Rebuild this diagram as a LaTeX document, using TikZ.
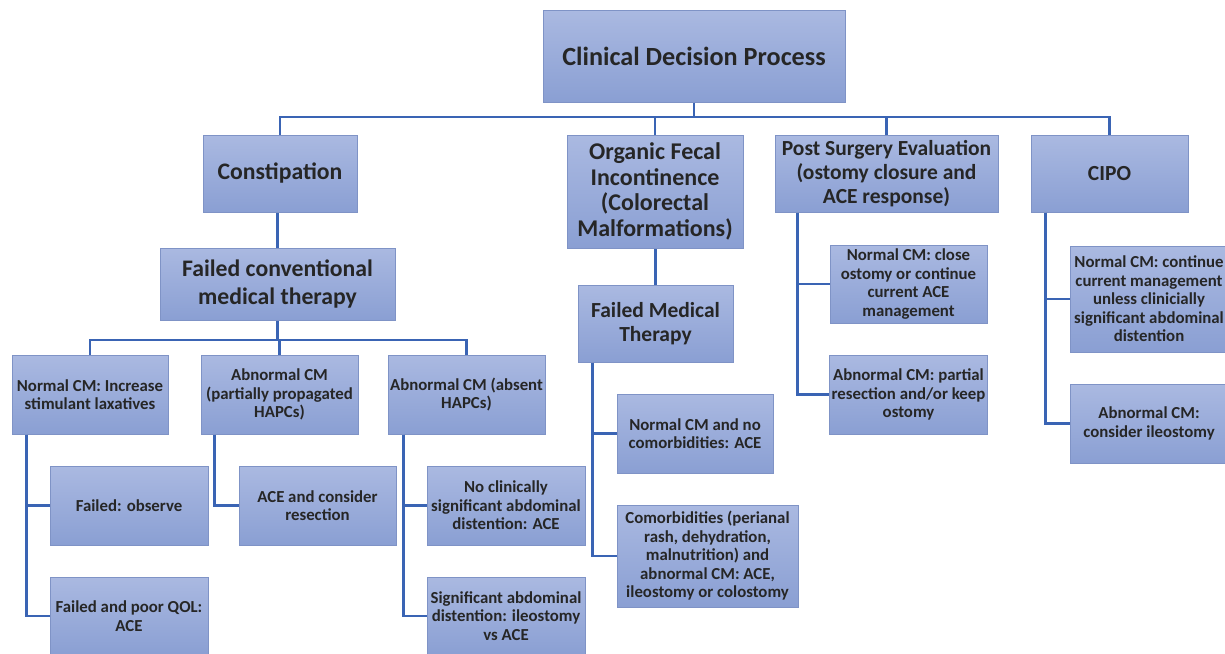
\documentclass[tikz,border=0pt]{standalone}
\usepackage{fontspec}
\setmainfont{Carlito}
\definecolor{boxtop}{HTML}{AAB9E1}
\definecolor{boxbot}{HTML}{8A9FD3}
\definecolor{boxline}{HTML}{7F93C6}
\definecolor{linkblue}{HTML}{3A64B4}
\definecolor{ink}{HTML}{262626}
\usepackage{tikz}
\tikzset{
  node_base/.style={draw=boxline,line width=1pt,top color=boxtop,bottom color=boxbot,
    inner sep=2pt,align=center,text=ink},
  node_root/.style={node_base,minimum width=302pt,minimum height=92pt,
    font=\fontsize{26.2}{30}\selectfont\bfseries},
  node_main/.style={node_base,minimum width=157pt,minimum height=77pt,
    font=\fontsize{23.7}{28}\selectfont\bfseries},
  node_mid/.style={node_base,minimum width=157pt,minimum height=77pt,
    font=\fontsize{21.5}{24}\selectfont\bfseries},
  node_leaf/.style={node_base,minimum width=157pt,minimum height=79pt,
    font=\fontsize{16.8}{18.5}\selectfont\bfseries},
  link/.style={draw=linkblue,line width=2.4pt,line join=miter},
}

\begin{document}
\begin{tikzpicture}[x=1pt,y=-1pt]
  \useasboundingbox (0,0) rectangle (1225,653);

  % top of the tree
  \node[node_root] (root) at (694,56) {Clinical Decision Process};

  \node[node_main,minimum width=154pt] (const) at (280,173.5) {Constipation};
  \node[node_main,minimum width=176pt,minimum height=113pt,
    font=\fontsize{24}{25.7}\selectfont\bfseries] (organic) at (655,191.5)
    {Organic Fecal\\Incontinence\\(Colorectal\\Malformations)};
  \node[node_mid,minimum width=223pt] (post) at (886.5,173.5)
    {Post Surgery Evaluation\\(ostomy closure and\\ACE response)};
  \node[node_mid] (cipo) at (1109.5,173.5) {CIPO};

  \coordinate (bus_top) at (694,117);
  \draw[link] (root.south) -- (bus_top);
  \draw[link] (bus_top) -| (const.north);
  \draw[link] (bus_top) -| (organic.north);
  \draw[link] (bus_top) -| (post.north);
  \draw[link] (bus_top) -| (cipo.north);

  % constipation branch
  \node[node_main,minimum width=235pt,minimum height=72pt] (fconv) at (277.5,284)
    {Failed conventional\\medical therapy};
  \draw[link] (fconv.north) -- (fconv.north |- const.south);

  \node[node_leaf,minimum width=156pt] (norm) at (90,394.5) {Normal CM: Increase\\stimulant laxatives};
  \node[node_leaf] (part) at (279.5,394.5) {Abnormal CM\\(partially propagated\\HAPCs)};
  \node[node_leaf] (absent) at (466.5,394.5) {Abnormal CM (absent\\HAPCs)};

  \coordinate (bus_fc) at (277.5,340);
  \draw[link] (fconv.south) -- (bus_fc);
  \draw[link] (bus_fc) -| (norm.north);
  \draw[link] (bus_fc) -| (part.north);
  \draw[link] (bus_fc) -| (absent.north);

  \node[node_leaf,minimum width=158pt] (fobs) at (129,505.5) {Failed: observe};
  \node[node_leaf,minimum width=158pt,minimum height=78pt] (fqol) at (129,616) {Failed and poor QOL:\\ACE};
  \node[node_leaf] (aceres) at (317.5,505.5) {ACE and consider\\resection};
  \node[node_leaf,minimum width=158pt] (nosig) at (506,505.5)
    {No clinically\\significant abdominal\\distention: ACE};
  \node[node_leaf,minimum width=158pt,minimum height=78pt] (sig) at (506,616)
    {Significant abdominal\\distention: ileostomy\\vs ACE};

  \draw[link] ([xshift=15pt]norm.south west) |- (fobs.west);
  \draw[link] ([xshift=15pt]norm.south west) |- (fqol.west);
  \draw[link] ([xshift=14pt]part.south west) |- (aceres.west);
  \draw[link] ([xshift=16pt]absent.south west) |- (nosig.west);
  \draw[link] ([xshift=16pt]absent.south west) |- (sig.west);

  % fecal incontinence branch
  \node[node_mid,minimum width=155pt] (fmed) at (655.5,323.5)
    {Failed Medical\\Therapy};
  \draw[link] (fmed.north) -- (fmed.north |- organic.south);

  \node[node_leaf,minimum width=156pt] (nocom) at (695,433.5) {Normal CM and no\\comorbidities: ACE};
  \node[node_leaf,minimum width=181pt,minimum height=102pt] (comorb) at (707.5,556)
    {Comorbidities (perianal\\rash, dehydration,\\malnutrition) and\\abnormal CM: ACE,\\ileostomy or colostomy};
  \draw[link] ([xshift=15pt]fmed.south west) |- (nocom.west);
  \draw[link] ([xshift=15pt]fmed.south west) |- (comorb.west);

  % post surgery branch
  \node[node_leaf,minimum height=78pt] (close) at (908.5,284)
    {Normal CM: close\\ostomy or continue\\current ACE\\management};
  \node[node_leaf] (partial) at (908.5,394.5)
    {Abnormal CM: partial\\resection and/or keep\\ostomy};
  \draw[link] ([xshift=23pt]post.south west) |- (close.west);
  \draw[link] ([xshift=23pt]post.south west) |- (partial.west);

  % CIPO branch
  \node[node_leaf,minimum width=158pt,minimum height=106pt] (cont) at (1149,299)
    {Normal CM: continue\\current management\\unless clinicially\\significant abdominal\\distention};
  \node[node_leaf,minimum width=158pt] (ileo) at (1149,423.5)
    {Abnormal CM:\\consider ileostomy};
  \draw[link] ([xshift=15pt]cipo.south west) |- (cont.west);
  \draw[link] ([xshift=15pt]cipo.south west) |- (ileo.west);
\end{tikzpicture}
\end{document}
